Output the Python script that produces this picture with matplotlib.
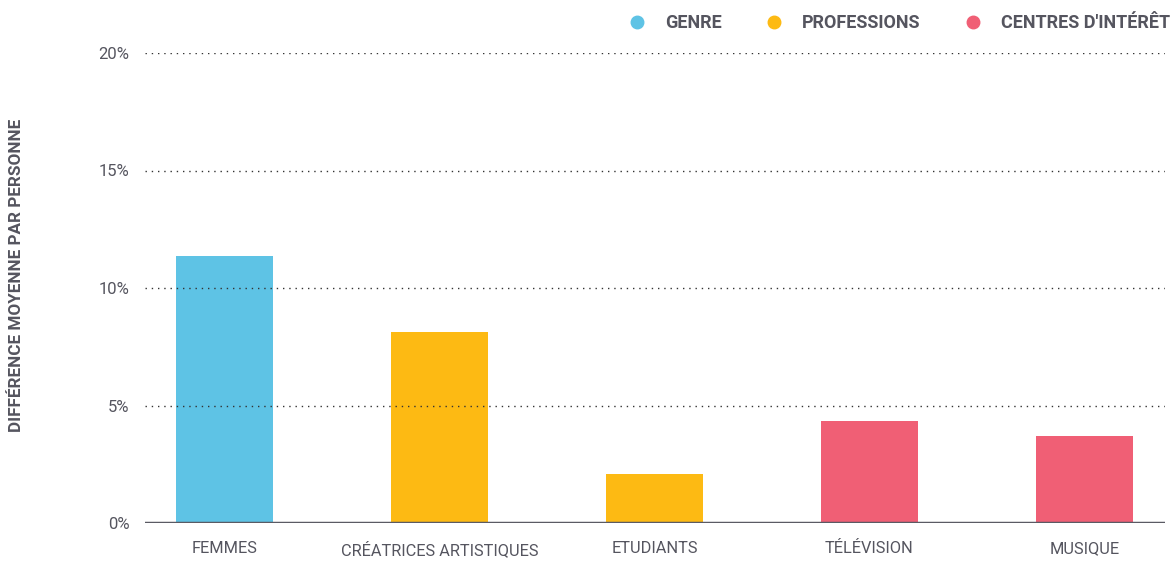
import matplotlib.pyplot as plt
from matplotlib.lines import Line2D

categories = ['FEMMES', 'CRÉATRICES ARTISTIQUES', 'ETUDIANTS', 'TÉLÉVISION', 'MUSIQUE']
values = [11.36, 8.13, 2.09, 4.34, 3.70]
groups = ['GENRE', 'PROFESSIONS', 'PROFESSIONS', "CENTRES D'INTÉRÊT", "CENTRES D'INTÉRÊT"]
group_names = ['GENRE', 'PROFESSIONS', "CENTRES D'INTÉRÊT"]
group_colors = {'GENRE': '#5EC3E5', 'PROFESSIONS': '#FDBA13', "CENTRES D'INTÉRÊT": '#F05F75'}
yticks = [0, 5, 10, 15, 20]

txt = '#55555f'
plt.rcParams['font.family'] = ['Roboto', 'DejaVu Sans']

fig = plt.figure(figsize=(11.7, 5.61), dpi=100)
ax = fig.add_axes([145 / 1170, 1 - 523 / 561, 1020 / 1170, 470 / 561])

x = list(range(len(categories)))
ax.bar(x, values, width=0.45, color=[group_colors[g] for g in groups], zorder=1)

ax.set_ylim(0, 20)
ax.set_xlim(-0.37, 4.375)
ax.set_yticks(yticks)
ax.set_yticklabels([f'{t}%' for t in yticks], fontsize=12, color=txt)
ax.set_xticks(x)
ax.set_xticklabels(categories, fontsize=11.8, color=txt)
ax.tick_params(axis='both', length=0)
ax.tick_params(axis='y', pad=11)
ax.tick_params(axis='x', pad=13)
for t in yticks[1:]:
    ax.axhline(t, color='#333333', linestyle=(0, (1, 3.5)), linewidth=1, zorder=2)
ax.axhline(0, color='#5a5a64', linewidth=2.5, zorder=3)
for s in ax.spines.values():
    s.set_visible(False)

fig.text(17 / 1170, 1 - 275 / 561, 'DIFFÉRENCE MOYENNE PAR PERSONNE', rotation=90,
         ha='center', va='center', fontsize=12.3, fontweight='bold', color=txt)

handles = [Line2D([], [], marker='o', linestyle='', markersize=9,
                  color=group_colors[g]) for g in group_names]
leg = fig.legend(handles, group_names, loc='center right', ncol=3,
                 bbox_to_anchor=(1.0, 1 - 23 / 561), frameon=False,
                 handlelength=1.0, handletextpad=1.05, columnspacing=2.4,
                 borderaxespad=0.0, borderpad=0.0,
                 prop={'weight': 'bold', 'size': 13})
for t in leg.get_texts():
    t.set_color(txt)

fig.savefig('out.png', dpi=100)
